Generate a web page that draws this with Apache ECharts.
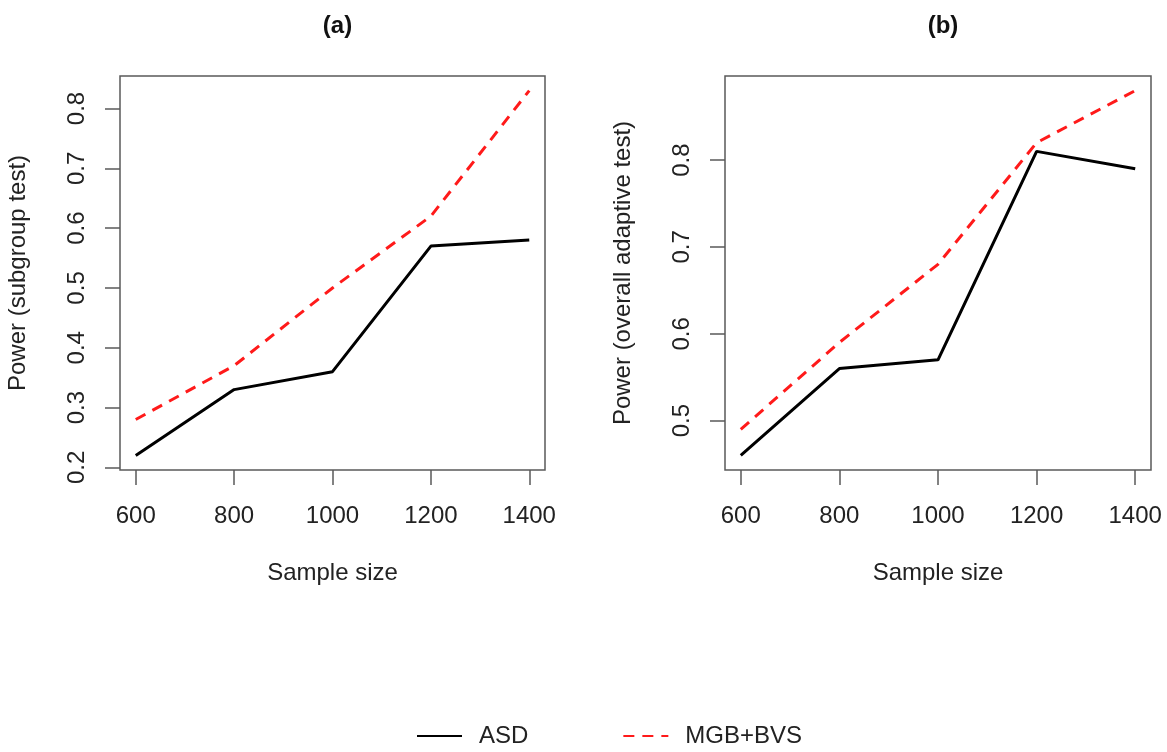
<!DOCTYPE html>
<html>
<head>
<meta charset="utf-8">
<script src="https://cdn.jsdelivr.net/npm/echarts@6/dist/echarts.min.js"></script>
<style>
html,body{margin:0;padding:0;background:#fff;}
#chart{width:1167px;height:752px;}
</style>
</head>
<body>
<div id="chart"></div>
<script>
const sampleSizes = [600, 800, 1000, 1200, 1400];
const asdSubgroup = [0.22, 0.33, 0.36, 0.57, 0.58];
const mgbSubgroup = [0.28, 0.37, 0.50, 0.62, 0.83];
const asdOverall = [0.46, 0.56, 0.57, 0.81, 0.79];
const mgbOverall = [0.49, 0.59, 0.68, 0.82, 0.88];
const yTicksA = [0.2, 0.3, 0.4, 0.5, 0.6, 0.7, 0.8];
const yTicksB = [0.5, 0.6, 0.7, 0.8];
const xTicks = [600, 800, 1000, 1200, 1400];
const titles = ['(a)', '(b)'];
const yNames = ['Power (subgroup test)', 'Power (overall adaptive test)'];
const xName = 'Sample size';
const seriesNames = ['ASD', 'MGB+BVS'];

const FONT = 'Liberation Sans, Arial, Helvetica, sans-serif';
const FS = 24;
function rRange(vals) {
  const lo = Math.min(...vals), hi = Math.max(...vals);
  const d = (hi - lo) * 0.04;
  return [lo - d, hi + d];
}
const xr = rRange(sampleSizes);
const yrA = rRange(asdSubgroup.concat(mgbSubgroup));
const yrB = rRange(asdOverall.concat(mgbOverall));

const grids = [
  {left: 120, top: 76, width: 425, height: 394},
  {left: 725, top: 76, width: 426, height: 394}
];
const boxColor = '#5a5a5a';
function xAxisDef(i) {
  return {
    type: 'value', gridIndex: i, min: xr[0], max: xr[1],
    splitLine: {show: false},
    axisLine: {show: false},
    axisTick: {show: true, inside: false, length: 15, customValues: xTicks, lineStyle: {color: boxColor, width: 1.5}},
    axisLabel: {customValues: xTicks, margin: 34, fontSize: FS, color: '#222', fontFamily: FONT, formatter: v => String(v)},
    name: xName, nameLocation: 'middle', nameGap: 91,
    nameTextStyle: {fontSize: FS, color: '#222', fontFamily: FONT}
  };
}
function yAxisDef(i, yr, ticks) {
  return {
    type: 'value', gridIndex: i, min: yr[0], max: yr[1],
    splitLine: {show: false},
    axisLine: {show: false},
    axisTick: {show: true, inside: false, length: 15, customValues: ticks, lineStyle: {color: boxColor, width: 1.5}},
    axisLabel: {customValues: ticks, rotate: 90, margin: 31, fontSize: FS, color: '#222', fontFamily: FONT, formatter: v => v.toFixed(1)},
    name: yNames[i], nameLocation: 'middle', nameGap: 90, nameRotate: 90,
    nameTextStyle: {fontSize: FS, color: '#222', fontFamily: FONT}
  };
}
function lineSeries(name, i, ys, dashed) {
  return {
    name: name, type: 'line', xAxisIndex: i, yAxisIndex: i,
    data: sampleSizes.map((x, k) => [x, ys[k]]),
    symbol: 'none', showSymbol: false, silent: true, animation: false,
    lineStyle: dashed ? {color: '#ff1a1a', width: 3, type: [11, 8]} : {color: '#000', width: 3},
    itemStyle: {color: dashed ? '#ff1a1a' : '#000'}
  };
}
const chart = echarts.init(document.getElementById('chart'), null, {renderer: 'canvas'});
chart.setOption({
  backgroundColor: '#fff',
  animation: false,
  title: titles.map((t, i) => ({
    text: t, left: grids[i].left + grids[i].width / 2, top: 9, textAlign: 'center',
    textStyle: {fontSize: FS, fontWeight: 'bold', color: '#111', fontFamily: FONT}
  })),
  grid: grids.map(g => Object.assign({show: true, borderColor: boxColor, borderWidth: 1.5, backgroundColor: 'transparent'}, g)),
  xAxis: [xAxisDef(0), xAxisDef(1)],
  yAxis: [yAxisDef(0, yrA, yTicksA), yAxisDef(1, yrB, yTicksB)],
  legend: {
    data: seriesNames, left: 411, top: 719, itemWidth: 45, itemHeight: 14, itemGap: 94,
    itemStyle: {opacity: 0},
    lineStyle: {width: 2},
    textStyle: {fontSize: FS, color: '#222', fontFamily: FONT, padding: [0, 0, 0, 12]}
  },
  series: [
    lineSeries(seriesNames[0], 0, asdSubgroup, false),
    lineSeries(seriesNames[1], 0, mgbSubgroup, true),
    lineSeries(seriesNames[0], 1, asdOverall, false),
    lineSeries(seriesNames[1], 1, mgbOverall, true)
  ]
});
</script>
</body>
</html>
